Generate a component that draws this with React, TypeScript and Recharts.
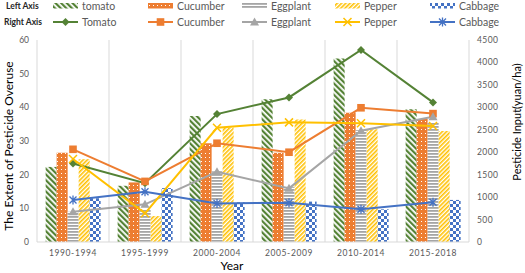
import React from "react";
import { Bar, CartesianGrid, ComposedChart, Line, XAxis, YAxis } from "recharts";

const periods = ["1990-1994", "1995-1999", "2000-2004", "2005-2009", "2010-2014", "2015-2018"];

// left axis: extent of pesticide overuse (bars)
const tomatoOveruse = [22.3, 16.7, 37.4, 42.4, 54.5, 39.4];
const cucumberOveruse = [26.5, 17.7, 29.3, 26.5, 38.4, 36.5];
const eggplantOveruse = [9, 9.5, 21, 16.4, 33.3, 35.5];
const pepperOveruse = [24.6, 7.7, 34, 36.4, 33.5, 33];
const cabbageOveruse = [13, 16, 11.8, 12, 9.7, 12.5];

// right axis: pesticide input, yuan/ha (lines)
const tomatoInput = [1750, 1310, 2850, 3220, 4280, 3110];
const cucumberInput = [2065, 1350, 2200, 2000, 2990, 2860];
const eggplantInput = [675, 840, 1565, 1195, 2480, 2790];
const pepperInput = [1850, 640, 2545, 2665, 2645, 2585];
const cabbageInput = [935, 1120, 860, 875, 730, 885];

const leftTicks = [0, 10, 20, 30, 40, 50, 60];
const rightTicks = [0, 500, 1000, 1500, 2000, 2500, 3000, 3500, 4000, 4500];

const FONT = "Lato, 'Noto Sans', sans-serif";
const GRAY = "#595959";

type Marker = "diamond" | "square" | "triangle" | "cross" | "star";

const crops: { bar: string; line: string; color: string; pattern: string; marker: Marker }[] = [
    { bar: "tomato", line: "Tomato", color: "#548235", pattern: "pTomato", marker: "diamond" },
    { bar: "Cucumber", line: "Cucumber", color: "#ED7D31", pattern: "pCucumber", marker: "square" },
    { bar: "Eggplant", line: "Eggplant", color: "#A5A5A5", pattern: "pEggplant", marker: "triangle" },
    { bar: "Pepper", line: "Pepper", color: "#FFC000", pattern: "pPepper", marker: "cross" },
    { bar: "Cabbage", line: "Cabbage", color: "#4472C4", pattern: "pCabbage", marker: "star" },
];

const overuse = [tomatoOveruse, cucumberOveruse, eggplantOveruse, pepperOveruse, cabbageOveruse];
const input = [tomatoInput, cucumberInput, eggplantInput, pepperInput, cabbageInput];

const data = periods.map((period, i) => {
    const row: Record<string, string | number> = { period };
    crops.forEach((c, k) => {
        row[`o${k}`] = overuse[k][i];
        row[`i${k}`] = input[k][i];
    });
    return row;
});

const MarkerShape = ({ kind, cx, cy, color }: { kind: Marker; cx: number; cy: number; color: string }) => {
    if (kind === "diamond")
        return <polygon points={`${cx},${cy - 4} ${cx + 4},${cy} ${cx},${cy + 4} ${cx - 4},${cy}`} fill={color} />;
    if (kind === "square") return <rect x={cx - 3.8} y={cy - 3.8} width={7.6} height={7.6} fill={color} />;
    if (kind === "triangle")
        return <polygon points={`${cx},${cy - 4.5} ${cx + 4.5},${cy + 3.5} ${cx - 4.5},${cy + 3.5}`} fill={color} />;
    if (kind === "cross")
        return (
            <path d={`M${cx - 4} ${cy - 4}L${cx + 4} ${cy + 4}M${cx + 4} ${cy - 4}L${cx - 4} ${cy + 4}`} stroke={color} strokeWidth={1.5} />
        );
    return (
        <path
            d={`M${cx - 3.5} ${cy - 3.5}L${cx + 3.5} ${cy + 3.5}M${cx + 3.5} ${cy - 3.5}L${cx - 3.5} ${cy + 3.5}M${cx} ${cy - 4.5}L${cx} ${cy + 4.5}`}
            stroke={color}
            strokeWidth={1.3}
        />
    );
};

const Patterns = () => (
    <svg width={0} height={0} style={{ position: "absolute" }}>
        <defs>
            <pattern id="pTomato" width={4} height={4} patternUnits="userSpaceOnUse" patternTransform="rotate(-45)">
                <rect width={4} height={4} fill="#fff" />
                <rect width={2.2} height={4} fill="#548235" />
            </pattern>
            <pattern id="pCucumber" width={4} height={4} patternUnits="userSpaceOnUse">
                <rect width={4} height={4} fill="#ED7D31" />
                <rect x={1} y={1} width={1} height={1} fill="#fff" />
            </pattern>
            <pattern id="pEggplant" width={4} height={3} patternUnits="userSpaceOnUse">
                <rect width={4} height={3} fill="#fff" />
                <rect width={4} height={1.8} fill="#A5A5A5" />
            </pattern>
            <pattern id="pPepper" width={3} height={3} patternUnits="userSpaceOnUse" patternTransform="rotate(45)">
                <rect width={3} height={3} fill="#fff" />
                <rect width={1.6} height={3} fill="#FFC000" />
            </pattern>
            <pattern id="pCabbage" width={6} height={6} patternUnits="userSpaceOnUse">
                <rect width={6} height={6} fill="#fff" />
                <rect width={3} height={3} fill="#4472C4" />
                <rect x={3} y={3} width={3} height={3} fill="#4472C4" />
            </pattern>
        </defs>
    </svg>
);

const legendX = [53, 148, 242, 335, 430];

const LegendBlock = () => (
    <svg width={525} height={32} style={{ position: "absolute", left: 0, top: 0 }} fontFamily={FONT}>
        <text x={6} y={9} fontSize={8.5} fontWeight="bold" fill="#262626">Left Axis</text>
        <text x={4} y={25} fontSize={8.5} fontWeight="bold" fill="#262626">Right Axis</text>
        {crops.map((c, k) => (
            <g key={c.bar}>
                <rect x={legendX[k]} y={3} width={25} height={5.5} fill={`url(#${c.pattern})`} />
                <text x={legendX[k] + 29} y={9.5} fontSize={10.5} fill={GRAY}>{c.bar}</text>
                <line x1={legendX[k]} x2={legendX[k] + 25} y1={22} y2={22} stroke={c.color} strokeWidth={2} />
                <MarkerShape kind={c.marker} cx={legendX[k] + 12.5} cy={22} color={c.color} />
                <text x={legendX[k] + 29} y={26} fontSize={10.5} fill={GRAY}>{c.line}</text>
            </g>
        ))}
    </svg>
);

const LeftTitle = ({ viewBox }: any) => {
    const cx = viewBox.x + 8;
    const cy = viewBox.y + viewBox.height / 2 + 5;
    return (
        <text x={cx} y={cy} transform={`rotate(-90 ${cx} ${cy})`} textAnchor="middle" dominantBaseline="central" fontSize={12} fill="#000" fontFamily={FONT}>
            The Extent of Pesticide Overuse
        </text>
    );
};

const RightTitle = ({ viewBox }: any) => {
    const cx = viewBox.x + viewBox.width - 8.5;
    const cy = viewBox.y + viewBox.height / 2 - 19;
    return (
        <text x={cx} y={cy} transform={`rotate(-90 ${cx} ${cy})`} textAnchor="middle" dominantBaseline="central" fontSize={11} fill="#000" fontFamily={FONT}>
            Pesticide Input(yuan/ha)
        </text>
    );
};

const YearTitle = ({ viewBox }: any) => (
    <text x={viewBox.x + viewBox.width / 2 - 21} y={viewBox.y + 28} textAnchor="middle" fontSize={12} fill="#000" fontFamily={FONT}>
        Year
    </text>
);

export default function App() {
    return (
        <div style={{ position: "relative", width: 525, height: 273, background: "#fff" }}>
            <style>{"body{margin:0}"}</style>
            <Patterns />
            <LegendBlock />
            <ComposedChart
                width={525}
                height={273}
                data={data}
                margin={{ top: 40, right: 0, bottom: 0, left: 0 }}
                barCategoryGap="12%"
                barGap={0}
            >
                <CartesianGrid
                    horizontal={false}
                    stroke="#D9D9D9"
                    verticalCoordinatesGenerator={({ offset }: any) =>
                        periods.map((_, i) => offset.left + (i * offset.width) / periods.length).concat(offset.left + offset.width)
                    }
                />
                <XAxis
                    dataKey="period"
                    height={31}
                    axisLine={{ stroke: "#D9D9D9" }}
                    tickLine={false}
                    tick={{ fill: GRAY, fontSize: 8.5, fontFamily: FONT, letterSpacing: 0.6 }}
                    label={<YearTitle />}
                />
                <YAxis
                    yAxisId="left"
                    width={37}
                    domain={[0, 60]}
                    ticks={leftTicks}
                    axisLine={false}
                    tickLine={false}
                    tick={{ fill: GRAY, fontSize: 8.5, fontFamily: FONT }}
                    label={<LeftTitle />}
                />
                <YAxis
                    yAxisId="right"
                    orientation="right"
                    width={56}
                    domain={[0, 4500]}
                    ticks={rightTicks}
                    axisLine={false}
                    tickLine={false}
                    tick={{ fill: GRAY, fontSize: 8.5, fontFamily: FONT, letterSpacing: 0.4 }}
                    label={<RightTitle />}
                />
                {crops.map((c, k) => (
                    <Bar key={`b${k}`} yAxisId="left" dataKey={`o${k}`} fill={`url(#${c.pattern})`} isAnimationActive={false} />
                ))}
                {crops.map((c, k) => (
                    <Line
                        key={`l${k}`}
                        yAxisId="right"
                        dataKey={`i${k}`}
                        stroke={c.color}
                        strokeWidth={2}
                        dot={(p: any) => <MarkerShape key={p.index} kind={c.marker} cx={p.cx} cy={p.cy} color={c.color} />}
                        activeDot={false}
                        isAnimationActive={false}
                    />
                ))}
            </ComposedChart>
        </div>
    );
}
